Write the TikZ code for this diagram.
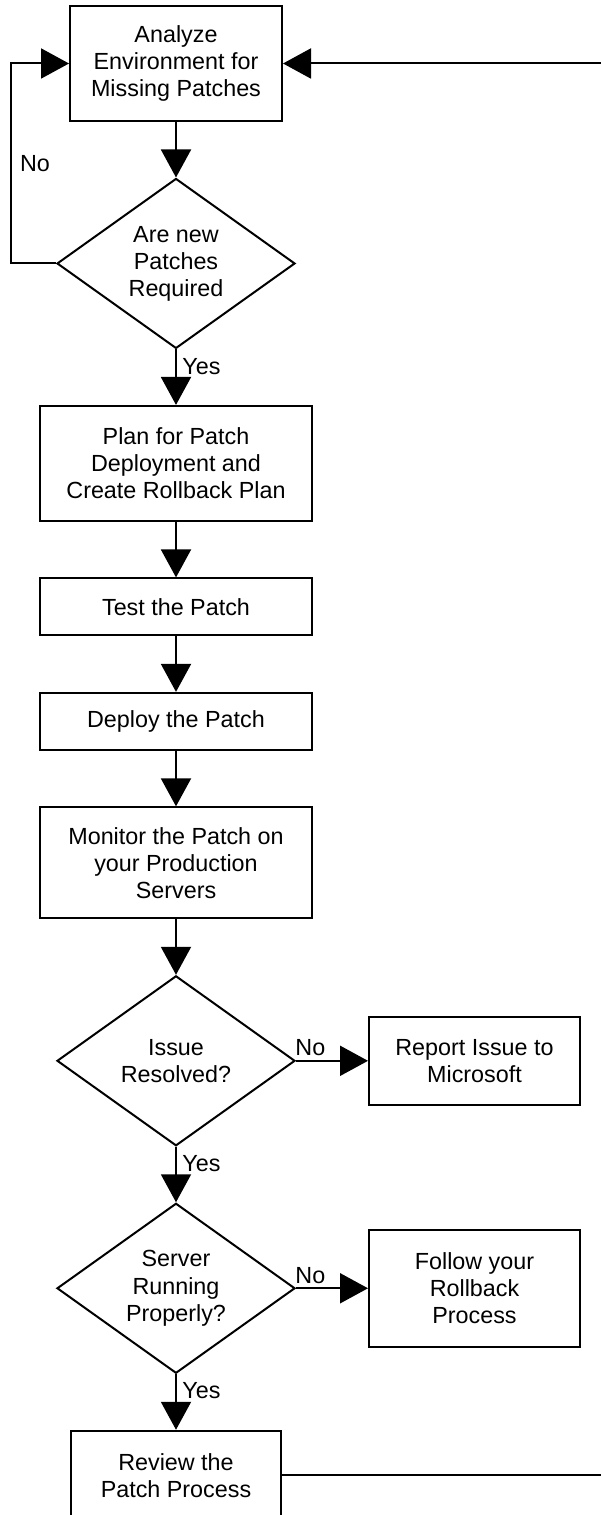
\documentclass[tikz,border=0pt]{standalone}
\usepackage{fontspec}
\setmainfont{Liberation Sans}
\usetikzlibrary{arrows.meta,positioning,shapes.geometric}

\begin{document}
\begin{tikzpicture}[
    x=0.75pt, y=-0.75pt,
    node distance=41.6pt,
    every node/.style={font=\fontsize{17.5pt}{20.3pt}\selectfont},
    proc/.style={rectangle,draw,line width=1.5pt,minimum width=204pt,
      minimum height=42.75pt,align=center,inner sep=0pt},
    decide/.style={diamond,draw,line width=1.5pt,aspect=1.4,minimum width=178.5pt,
      minimum height=127.5pt,align=center,inner sep=0pt},
    arrow/.style={-{Triangle[length=21pt,width=22.5pt]},line width=1.5pt},
    lbl/.style={inner sep=1pt}
  ]
    \useasboundingbox (0,0) rectangle (600,1515);

    \node[proc,minimum width=159pt,minimum height=86.25pt] (analyze) at (176,63.5)
      {Analyze\\Environment for\\Missing Patches};
    \node[decide,below=of analyze] (newp) {Are new\\Patches\\Required};
    \node[proc,minimum height=86.25pt,below=of newp] (plan)
      {Plan for Patch\\Deployment and\\Create Rollback Plan};
    \node[proc,below=of plan] (test) {Test the Patch};
    \node[proc,below=of test] (deploy) {Deploy the Patch};
    \node[proc,minimum height=83.25pt,below=of deploy] (monitor)
      {Monitor the Patch on\\your Production\\Servers};
    \node[decide,below=of monitor] (resolved) {Issue\\Resolved?};
    \node[proc,minimum width=158.25pt,minimum height=66pt,right=54pt of resolved] (report)
      {Report Issue to\\Microsoft};
    \node[decide,below=of resolved] (running) {Server\\Running\\Properly?};
    \node[proc,minimum width=158.25pt,minimum height=87.75pt,right=54pt of running] (rollback)
      {Follow your\\Rollback\\Process};
    \node[proc,minimum width=157.5pt,minimum height=67pt,below=of running] (review)
      {Review the\\Patch Process};

    \coordinate (loopc) at (11,63.5);
    \coordinate (rim) at (604,63.5);

    \draw[arrow] (analyze) -- (newp);
    \draw[arrow] (newp.west) -| node[lbl,pos=0.75,right=5pt] {No} (loopc) -- (analyze.west);
    \draw[arrow] (newp) -- node[lbl,pos=0.3,right=3pt] {Yes} (plan);
    \draw[arrow] (plan) -- (test);
    \draw[arrow] (test) -- (deploy);
    \draw[arrow] (deploy) -- (monitor);
    \draw[arrow] (monitor) -- (resolved);
    \draw[arrow] (resolved) -- node[lbl,pos=0.2,above=2pt] {No} (report);
    \draw[arrow] (resolved) -- node[lbl,pos=0.3,right=3pt] {Yes} (running);
    \draw[arrow] (running) -- node[lbl,pos=0.2,above=2pt] {No} (rollback);
    \draw[arrow] (running) -- node[lbl,pos=0.3,right=3pt] {Yes} (review);
    \draw[arrow] (review.east) -| (rim) -- (analyze.east);
  \end{tikzpicture}
\end{document}
